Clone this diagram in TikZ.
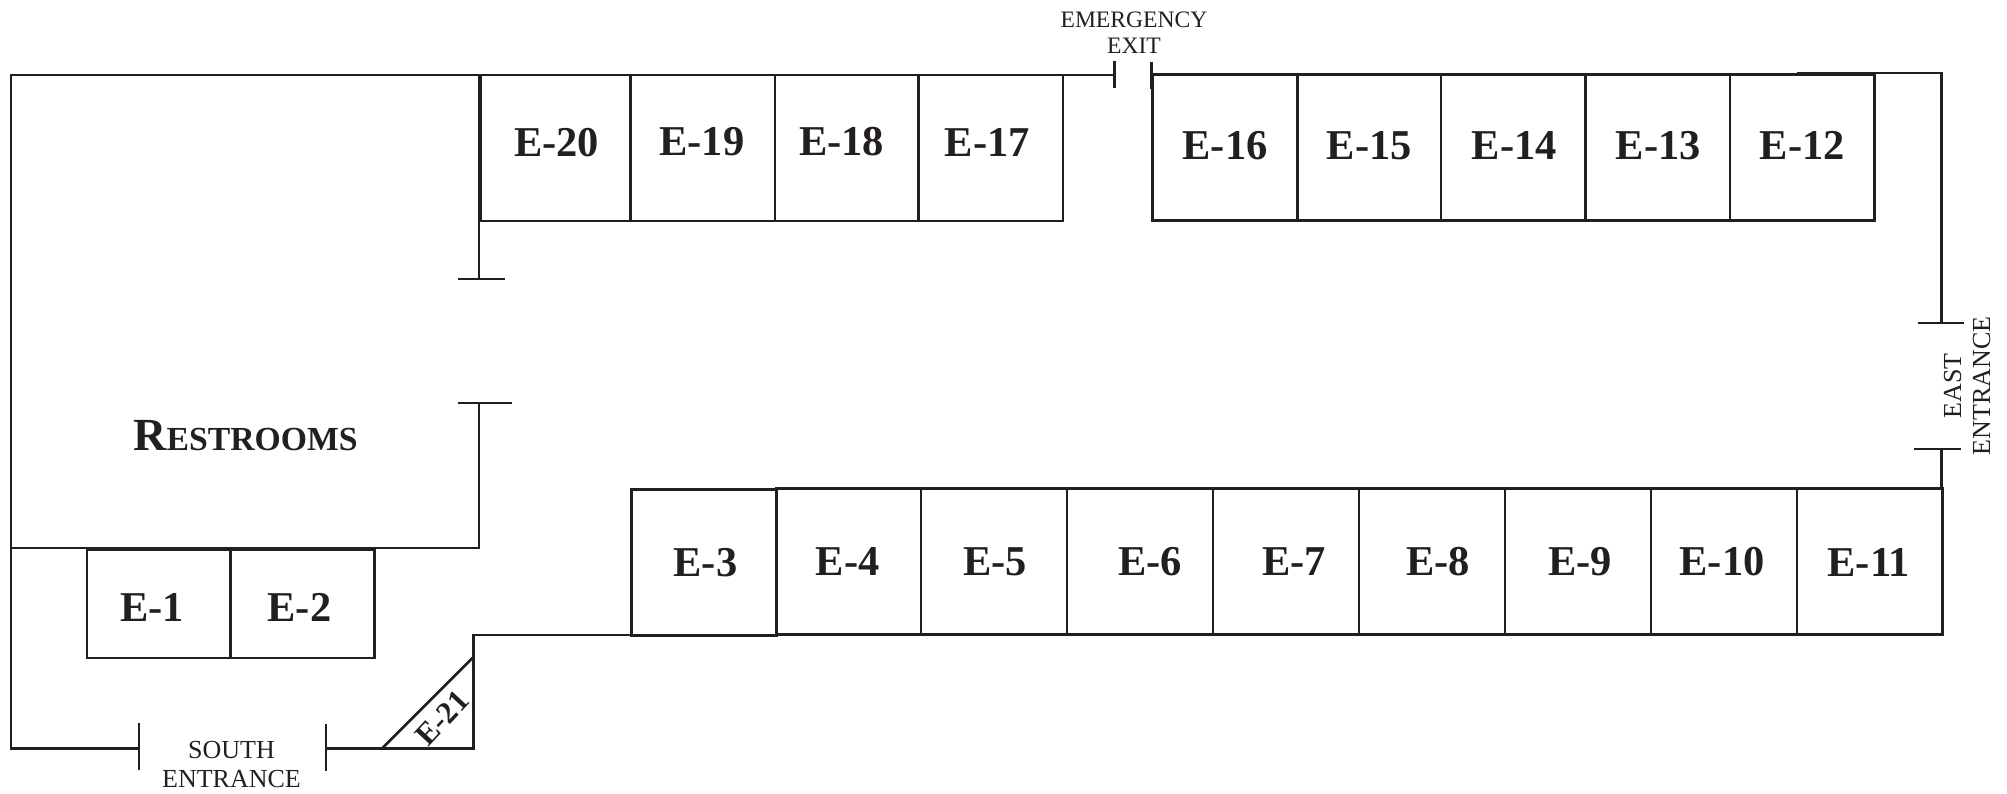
\documentclass[tikz,border=0pt]{standalone}
\usepackage{fontspec}
\setmainfont{Liberation Serif}
\usepackage{tikz}
\usetikzlibrary{positioning}
\definecolor{ink}{HTML}{231F20}
\tikzstyle{wall} = [draw=ink, line width=2.8pt, line cap=butt, line join=miter]
\tikzstyle{booth} = [draw=ink, line width=2.8pt, anchor=north west, inner sep=0pt, outer sep=0pt, minimum height=146pt]
\tikzstyle{boothtext} = [text=ink, inner sep=0pt, font=\fontsize{42.5}{42.5}\selectfont\bfseries]
\tikzstyle{doortext} = [text=ink, inner sep=0pt, align=center, font=\fontsize{26}{29}\selectfont]
\newcommand{\booth}[2]{node (b#1) [booth, minimum width=#2pt] {}}
\newcommand{\shortbooth}[2]{node (b#1) [booth, minimum width=#2pt, minimum height=108pt] {}}
\newcommand{\boothtext}[1]{node (t#1) [boothtext] {E-#1}}

\begin{document}
\begin{tikzpicture}[x=1pt,y=-1pt]
\useasboundingbox (0,0) rectangle (2007,793);
% outer walls
\path [wall] (139,748.5) -- (11,748.5) -- (11,75) -- (1114,75);
\path [wall] (11,548) -- (479,548) -- (479,403);
\path [wall] (479,75) -- (479,279);
\path [wall] (326,748.5) -- (473.5,748.5) -- (473.5,635) -- (631,635);
\path [wall] (382,748.5) -- (473.5,657);
\path [wall] (1797,73) -- (1941.7,73) -- (1941.7,323);
\path [wall] (1941.7,449) -- (1941.7,489);
% door ends
\path [wall] (139,723) -- (139,770);
\path [wall] (326,724) -- (326,771);
\path [wall] (458,279) -- (505,279);
\path [wall] (458,403) -- (512,403);
\path [wall] (1114.3,61) -- (1114.3,88);
\path [wall] (1151.6,62) -- (1151.6,89);
\path [wall] (1918,323) -- (1964,323);
\path [wall] (1914,449) -- (1961,449);

% upper row
\path (480.5,75) \booth{20}{150};
\path (b20.north east) \booth{19}{144.5};
\path (b19.north east) \booth{18}{143.4};
\path (b18.north east) \booth{17}{144.6};
\path (1152.5,74.5) \booth{16}{145};
\path (b16.north east) \booth{15}{143.5};
\path (b15.north east) \booth{14}{144.5};
\path (b14.north east) \booth{13}{144.5};
\path (b13.north east) \booth{12}{144.5};
% lower row
\path (631.5,489.5) \booth{3}{145};
\path (776.5,488.5) \booth{4}{144.5};
\path (b4.north east) \booth{5}{146};
\path (b5.north east) \booth{6}{146};
\path (b6.north east) \booth{7}{146};
\path (b7.north east) \booth{8}{146};
\path (b8.north east) \booth{9}{146};
\path (b9.north east) \booth{10}{146};
\path (b10.north east) \booth{11}{145.7};
% south row
\path (87,550) \shortbooth{1}{143.5};
\path (b1.north east) \shortbooth{2}{144};

\path (b20)+(1,-5) \boothtext{20};
\path (b19)+(-1,-6) \boothtext{19};
\path (b18)+(-5,-6) \boothtext{18};
\path (b17)+(-3.5,-6) \boothtext{17};
\path (b16)+(0,-2) \boothtext{16};
\path (b15)+(0,-2) \boothtext{15};
\path (b14)+(1,-2) \boothtext{14};
\path (b13)+(0.5,-2) \boothtext{13};
\path (b12)+(0,-2) \boothtext{12};
\path (b3)+(1.5,0.5) \boothtext{3};
\path (b4)+(-1,0.5) \boothtext{4};
\path (b5)+(1,0.5) \boothtext{5};
\path (b6)+(10,0.5) \boothtext{6};
\path (b7)+(8,0.5) \boothtext{7};
\path (b8)+(6,0.5) \boothtext{8};
\path (b9)+(2,0.5) \boothtext{9};
\path (b10)+(-2,0.5) \boothtext{10};
\path (b11)+(-1,0.5) \boothtext{11};
\path (b1)+(-6.5,3) \boothtext{1};
\path (b2)+(-3,3) \boothtext{2};
\node (t21) [boothtext, rotate=47, font=\fontsize{31}{31}\selectfont\bfseries] at (442,718) {E-21};

\node (restrooms) [boothtext, font=\bfseries] at (245.5,436) {\fontsize{46}{46}\selectfont R\fontsize{33.7}{46}\selectfont ESTROOMS};
\node (south) [doortext] at (231.5,765) {SOUTH\\ENTRANCE};
\node (east) [doortext, rotate=90] at (1967,386) {EAST\\ENTRANCE};
\node (exit) [doortext, font=\fontsize{23.6}{26}\selectfont] at (1134,33) {EMERGENCY\\EXIT};
\end{tikzpicture}
\end{document}
